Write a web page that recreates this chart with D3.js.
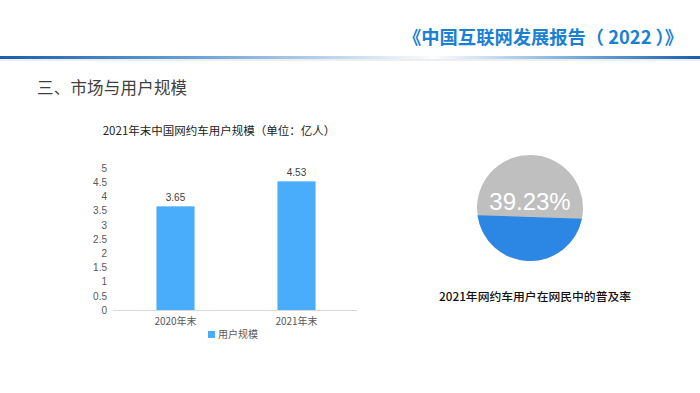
<!DOCTYPE html>
<html><head><meta charset="utf-8">
<script src="https://cdn.jsdelivr.net/npm/d3@7/dist/d3.min.js"></script>
<style>html,body{margin:0;padding:0;background:#fff;overflow:hidden}</style>
</head><body>
<svg id="c" width="700" height="393"></svg>
<script>
const headerTitle = "《中国互联网发展报告（ 2022 ）》";
const sectionTitle = "三、市场与用户规模";
const barTitle = "2021年末中国网约车用户规模（单位：亿人）";
const categories = ["2020年末", "2021年末"];
const values = [3.65, 4.53];
const valueLabels = ["3.65", "4.53"];
const seriesName = "用户规模";
const yTicks = [0, 0.5, 1, 1.5, 2, 2.5, 3, 3.5, 4, 4.5, 5];
const yTickLabels = ["0", "0.5", "1", "1.5", "2", "2.5", "3", "3.5", "4", "4.5", "5"];
const pieValue = 39.23;
const pieLabel = "39.23%";
const pieCaption = "2021年网约车用户在网民中的普及率";

const svg = d3.select("#c");
const defs = svg.append("defs");
const cjk = "'Noto Sans CJK SC','Noto Sans',sans-serif";

// header
svg.append("text").attr("x", 683).attr("y", 44).attr("text-anchor", "end")
  .attr("font-family", cjk).attr("font-weight", "bold").attr("font-size", 18.3)
  .attr("fill", "#1a80d2").text(headerTitle);

const g1 = defs.append("linearGradient").attr("id", "gl");
g1.append("stop").attr("offset", "0").attr("stop-color", "#1a5fae");
g1.append("stop").attr("offset", "0.45").attr("stop-color", "#6aa3d6");
g1.append("stop").attr("offset", "1").attr("stop-color", "#ffffff");
const g2 = defs.append("linearGradient").attr("id", "gr");
g2.append("stop").attr("offset", "0").attr("stop-color", "#ffffff");
g2.append("stop").attr("offset", "0.5").attr("stop-color", "#7fb2de");
g2.append("stop").attr("offset", "1").attr("stop-color", "#1a5fae");
svg.append("rect").attr("x", 0).attr("y", 59).attr("width", 700).attr("height", 2).attr("fill", "#eeeeee");
svg.append("rect").attr("x", 0).attr("y", 56).attr("width", 440).attr("height", 3).attr("fill", "url(#gl)");
svg.append("rect").attr("x", 430).attr("y", 56).attr("width", 270).attr("height", 3).attr("fill", "url(#gr)");

// section title
svg.append("text").attr("x", 37).attr("y", 94).attr("font-family", cjk)
  .attr("font-size", 16.5).attr("fill", "#404040").attr("letter-spacing", 0.2).text(sectionTitle);

// bar chart
svg.append("text").attr("x", 219).attr("y", 135).attr("text-anchor", "middle")
  .attr("font-family", cjk).attr("font-size", 11.5).attr("fill", "#222").text(barTitle);

const y = d3.scaleLinear().domain([0, 5]).range([310, 168]);
const x = d3.scaleBand().domain(categories).range([115, 357]).padding(0);
const barW = x.bandwidth() * 0.315;

const yAxis = svg.append("g").attr("transform", "translate(107,0)")
  .call(d3.axisLeft(y).tickValues(yTicks).tickFormat((d, i) => yTickLabels[i]).tickSize(0).tickPadding(0));
yAxis.select(".domain").remove();
yAxis.selectAll("text").attr("font-family", "'Liberation Sans',Arial,sans-serif").attr("font-size", 10).attr("fill", "#595959");

const xAxis = svg.append("g").attr("transform", "translate(0,310)")
  .call(d3.axisBottom(x).tickSize(0).tickPadding(8));
xAxis.select(".domain").attr("stroke", "#d9d9d9").attr("d", "M113,0.5H357");
xAxis.selectAll("text").attr("font-family", cjk).attr("font-size", 10).attr("fill", "#595959");

svg.selectAll("rect.bar").data(values).join("rect").attr("class", "bar")
  .attr("x", (d, i) => x(categories[i]) + x.bandwidth() / 2 - barW / 2)
  .attr("y", d => y(d)).attr("width", barW).attr("height", d => 310 - y(d))
  .attr("fill", "#4aadfc");
svg.selectAll("text.vl").data(values).join("text").attr("class", "vl")
  .attr("x", (d, i) => x(categories[i]) + x.bandwidth() / 2)
  .attr("y", d => y(d) - 5).attr("text-anchor", "middle")
  .attr("font-family", "'Liberation Sans',Arial,sans-serif").attr("font-size", 10).attr("fill", "#404040")
  .text((d, i) => valueLabels[i]);

// legend
svg.append("rect").attr("x", 208).attr("y", 331).attr("width", 7).attr("height", 7).attr("fill", "#4aadfc");
svg.append("text").attr("x", 218).attr("y", 338).attr("font-family", cjk).attr("font-size", 10)
  .attr("fill", "#595959").text(seriesName);

// filled circle: segment whose area equals the share
const cx = 530, cy = 208, r = 53;
const frac = pieValue / 100;
let th = Math.PI;
for (let k = 0; k < 50; k++) { th -= (th - Math.sin(th) - 2 * Math.PI * frac) / (1 - Math.cos(th)); }
const dd = r * Math.cos(th / 2), aa = r * Math.sin(th / 2);
const pg = svg.append("g").attr("transform", `translate(${cx},${cy}) rotate(2)`);
pg.append("circle").attr("r", r).attr("fill", "#bfbfbf");
pg.append("path").attr("d", `M${-aa},${dd}A${r},${r} 0 0 0 ${aa},${dd}Z`).attr("fill", "#2b87e3");
svg.append("text").attr("x", cx).attr("y", 210).attr("text-anchor", "middle")
  .attr("font-family", "'Liberation Sans',Arial,sans-serif").attr("font-size", 24).attr("fill", "#ffffff").text(pieLabel);

svg.append("text").attr("x", 535).attr("y", 301).attr("text-anchor", "middle")
  .attr("font-family", cjk).attr("font-size", 11.8).attr("font-weight", "500").attr("fill", "#111").text(pieCaption);
</script>
</body></html>
